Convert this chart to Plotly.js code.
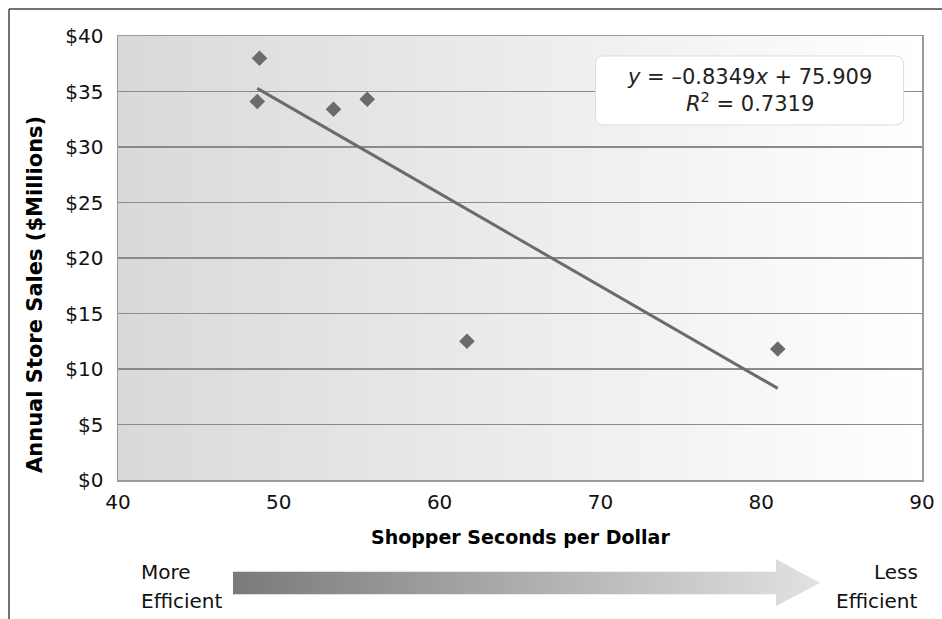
<!DOCTYPE html>
<html>
<head>
<meta charset="utf-8">
<script src="https://cdn.plot.ly/plotly-3.0.1.min.js"></script>
<style>html,body{margin:0;padding:0;background:#fff;}#chart{width:942px;height:619px;}</style>
</head>
<body>
<div id="chart"></div>
<script>
// ---- data ----
const shopperSeconds = [48.8, 48.66, 53.4, 55.5, 61.7, 81.03];
const annualSales = [38.0, 34.1, 33.4, 34.3, 12.5, 11.8];
const trendSlope = -0.8349;
const trendIntercept = 75.909;
const rSquared = 0.7319;
const xTickVals = [40, 50, 60, 70, 80, 90];
const yTickVals = [0, 5, 10, 15, 20, 25, 30, 35, 40];
const xTitle = 'Shopper Seconds per Dollar';
const yTitle = 'Annual Store Sales ($Millions)';
const leftLabel = ['More', 'Efficient'];
const rightLabel = ['Less', 'Efficient'];

// ---- geometry helpers ----
const W = 942, H = 619, ML = 118, MR = 20, MT = 36, MB = 139;
const PW = W - ML - MR, PH = H - MT - MB;
const px = v => (v - ML) / PW;          // pixel x -> paper x
const py = v => (H - MB - v) / PH;      // pixel y -> paper y

const xMin = Math.min(...shopperSeconds), xMax = Math.max(...shopperSeconds);
const trendX = [xMin, xMax];
const trendY = trendX.map(x => trendSlope * x + trendIntercept);

const bgSvg = '<svg xmlns="http://www.w3.org/2000/svg" width="800" height="440" viewBox="0 0 800 440" preserveAspectRatio="none">' +
  '<defs><linearGradient id="g" x1="0" y1="0" x2="1" y2="0"><stop offset="0" stop-color="#d9d9d9"/><stop offset="1" stop-color="#ffffff"/></linearGradient></defs>' +
  '<rect x="0" y="0" width="800" height="440" fill="url(#g)"/></svg>';
const arrowSvg = '<svg xmlns="http://www.w3.org/2000/svg" width="587" height="47" viewBox="0 0 587 47" preserveAspectRatio="none">' +
  '<defs><linearGradient id="a" x1="0" y1="0" x2="1" y2="0"><stop offset="0" stop-color="#7a7a7a"/><stop offset="1" stop-color="#e2e2e2"/></linearGradient></defs>' +
  '<path d="M0,12.7 L543,12.7 L543,0 L587,24 L543,47 L543,35.3 L0,35.3 Z" fill="url(#a)"/></svg>';
const uri = s => 'data:image/svg+xml;charset=utf-8,' + encodeURIComponent(s);

const traces = [
  {
    x: trendX, y: trendY, type: 'scatter', mode: 'lines',
    line: {color: '#6b6b6b', width: 3}, hoverinfo: 'skip', showlegend: false
  },
  {
    x: shopperSeconds, y: annualSales, type: 'scatter', mode: 'markers',
    marker: {symbol: 'diamond', size: 12, color: '#6b6b6b'}, showlegend: false
  }
];

// rounded box for equation (data coords)
const bx0 = 69.7, bx1 = 88.85, by0 = 31.98, by1 = 38.2, rx = 0.5, ry = 0.72;
const boxPath = `M${bx0+rx},${by1} L${bx1-rx},${by1} Q${bx1},${by1} ${bx1},${by1-ry} L${bx1},${by0+ry} Q${bx1},${by0} ${bx1-rx},${by0} L${bx0+rx},${by0} Q${bx0},${by0} ${bx0},${by0+ry} L${bx0},${by1-ry} Q${bx0},${by1} ${bx0+rx},${by1} Z`;

const font = 'DejaVu Sans, Liberation Sans, Arial, sans-serif';
const layout = {
  width: W, height: H,
  margin: {l: ML, r: MR, t: MT, b: MB, pad: 0},
  paper_bgcolor: '#ffffff', plot_bgcolor: 'rgba(0,0,0,0)',
  showlegend: false,
  font: {family: font, size: 20, color: '#111'},
  xaxis: {
    range: [40, 90], tickvals: xTickVals, ticktext: xTickVals.map(String),
    showgrid: false, zeroline: false, showline: true, linecolor: '#9a9a9a', linewidth: 1.5, mirror: true,
    ticks: '', ticklabelstandoff: 3, tickfont: {family: font, size: 20, color: '#111'}
  },
  yaxis: {
    range: [0, 40], tickvals: yTickVals, ticktext: yTickVals.map(v => '$' + v),
    showgrid: true, gridcolor: '#8a8a8a', gridwidth: 1.5, zeroline: false,
    showline: true, linecolor: '#9a9a9a', linewidth: 1.5, mirror: true,
    ticks: '', ticklabelstandoff: 9, tickfont: {family: font, size: 20, color: '#111'}
  },
  images: [
    {source: uri(bgSvg), xref: 'paper', yref: 'paper', x: 0, y: 1, sizex: 1, sizey: 1,
     sizing: 'stretch', xanchor: 'left', yanchor: 'top', layer: 'below'},
    {source: uri(arrowSvg), xref: 'paper', yref: 'paper', x: px(233), y: py(559),
     sizex: 587 / PW, sizey: 47 / PH, sizing: 'stretch', xanchor: 'left', yanchor: 'top', layer: 'above'}
  ],
  shapes: [
    {type: 'path', xref: 'x', yref: 'y', path: boxPath, fillcolor: '#ffffff',
     line: {color: '#dcdcdc', width: 1}, layer: 'above'},
    {type: 'line', xref: 'paper', yref: 'paper', x0: px(9), x1: px(942), y0: py(9), y1: py(9),
     line: {color: '#444', width: 1.5}},
    {type: 'line', xref: 'paper', yref: 'paper', x0: px(9), x1: px(9), y0: py(9), y1: py(619),
     line: {color: '#444', width: 1.5}}
  ],
  annotations: [
    {xref: 'x', yref: 'y', x: (bx0 + bx1) / 2, y: (by0 + by1) / 2, showarrow: false,
     text: '<i>y</i> = –' + Math.abs(trendSlope).toFixed(4) + '<i>x</i> + ' + trendIntercept.toFixed(3) +
           '<br><i>R</i><sup>2</sup> = ' + rSquared.toFixed(4),
     font: {family: font, size: 21, color: '#222'}, align: 'center'},
    {xref: 'paper', yref: 'paper', x: px(520), y: py(537), showarrow: false, text: '<b>' + xTitle + '</b>',
     font: {family: font, size: 19, color: '#000'}, xanchor: 'center', yanchor: 'middle'},
    {xref: 'paper', yref: 'paper', x: px(35), y: py(295), showarrow: false, text: '<b>' + yTitle + '</b>',
     textangle: -90, font: {family: font, size: 21, color: '#000'}, xanchor: 'center', yanchor: 'middle'},
    {xref: 'paper', yref: 'paper', x: px(139), y: py(572), showarrow: false, text: leftLabel[0],
     font: {family: font, size: 20, color: '#111'}, xanchor: 'left', yanchor: 'middle'},
    {xref: 'paper', yref: 'paper', x: px(139), y: py(601), showarrow: false, text: leftLabel[1],
     font: {family: font, size: 20, color: '#111'}, xanchor: 'left', yanchor: 'middle'},
    {xref: 'paper', yref: 'paper', x: px(920), y: py(572), showarrow: false, text: rightLabel[0],
     font: {family: font, size: 20, color: '#111'}, xanchor: 'right', yanchor: 'middle'},
    {xref: 'paper', yref: 'paper', x: px(920), y: py(601), showarrow: false, text: rightLabel[1],
     font: {family: font, size: 20, color: '#111'}, xanchor: 'right', yanchor: 'middle'}
  ]
};

Plotly.newPlot('chart', traces, layout, {displayModeBar: false, staticPlot: true});
</script>
</body>
</html>
